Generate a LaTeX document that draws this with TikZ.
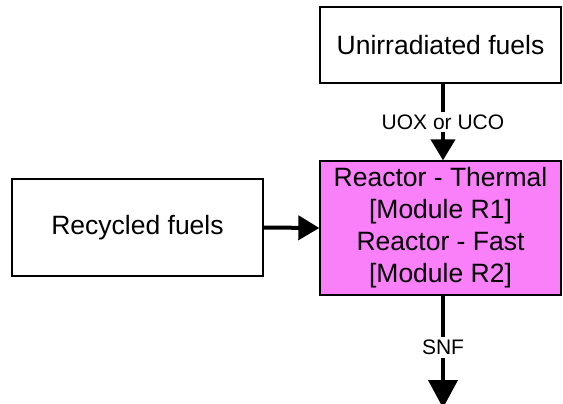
\documentclass[tikz,border=0pt]{standalone}
\usepackage{fontspec}
\setmainfont{Liberation Sans}
\usetikzlibrary{arrows.meta}
\definecolor{reactorpink}{RGB}{250,128,250}
\tikzset{
  boxnode/.style={draw=black, line width=1.3pt, align=center, inner sep=0pt,
    font=\fontsize{26.5}{32}\selectfont},
  flow/.style={line width=4pt, -{Triangle[length=21pt,width=24pt]}},
  flowlabel/.style={fill=white, inner sep=3pt, font=\fontsize{21}{24}\selectfont}
}
\begin{document}
\begin{tikzpicture}[x=1pt,y=-1pt]
\useasboundingbox (0,0) rectangle (563,404);
\clip (0,0) rectangle (563,404);
\fill[white] (0,0) rectangle (563,404);
\node[boxnode, minimum width=241pt, minimum height=76pt] (unirr) at (440.5,45) {Unirradiated fuels};
\node[boxnode, fill=reactorpink, minimum width=241pt, minimum height=134pt] (reactor) at (440.5,228)
  {Reactor - Thermal\\{}[Module R1]\\Reactor - Fast\\{}[Module R2]};
\node[boxnode, minimum width=251pt, minimum height=97pt] (recyc) at (137.5,227.5) {Recycled fuels};
\coordinate (out) at (443,408);
\draw[flow] ([xshift=2.5pt]unirr.south) -- node[flowlabel, pos=0.5] {UOX or UCO} ([xshift=2.5pt]reactor.north);
\draw[flow] (recyc.east) -- (reactor.west);
\draw[line width=4pt, -{Triangle[length=28pt,width=29pt]}] ([xshift=2.5pt]reactor.south) -- node[flowlabel, pos=0.46] {SNF} (out);
\end{tikzpicture}
\end{document}
